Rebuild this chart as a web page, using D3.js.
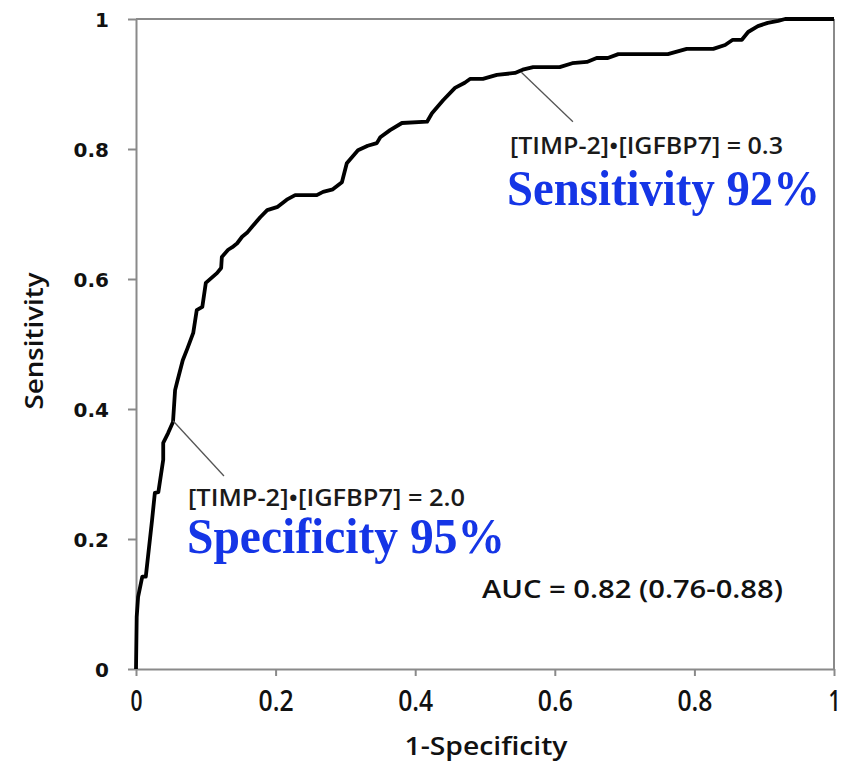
<!DOCTYPE html>
<html>
<head>
<meta charset="utf-8">
<script src="https://cdn.jsdelivr.net/npm/d3@7"></script>
<style>
  html, body { margin: 0; padding: 0; background: #fff; }
  svg { display: block; }
</style>
</head>
<body>
<svg id="chart" width="845" height="764"></svg>
<script>
// ROC curve: 1-Specificity (x) vs Sensitivity (y)
const fpr = [0, 0.001, 0.003, 0.009, 0.014, 0.023, 0.027, 0.032, 0.039, 0.039, 0.046, 0.053, 0.056, 0.059, 0.067, 0.074, 0.082, 0.087, 0.095, 0.100, 0.116, 0.122, 0.123, 0.132, 0.138, 0.145, 0.152, 0.159, 0.166, 0.178, 0.188, 0.203, 0.216, 0.228, 0.259, 0.268, 0.282, 0.295, 0.302, 0.318, 0.332, 0.345, 0.350, 0.364, 0.381, 0.417, 0.424, 0.440, 0.457, 0.471, 0.479, 0.497, 0.517, 0.543, 0.554, 0.569, 0.607, 0.625, 0.646, 0.660, 0.676, 0.691, 0.762, 0.789, 0.827, 0.844, 0.855, 0.868, 0.877, 0.891, 0.905, 0.920, 0.930, 1];
const tpr = [0, 0.080, 0.111, 0.142, 0.142, 0.229, 0.271, 0.272, 0.322, 0.348, 0.363, 0.380, 0.429, 0.442, 0.475, 0.494, 0.517, 0.552, 0.557, 0.594, 0.609, 0.617, 0.634, 0.645, 0.649, 0.655, 0.665, 0.671, 0.680, 0.695, 0.706, 0.711, 0.722, 0.729, 0.729, 0.734, 0.738, 0.749, 0.778, 0.798, 0.805, 0.809, 0.818, 0.829, 0.840, 0.842, 0.855, 0.875, 0.894, 0.902, 0.908, 0.908, 0.914, 0.917, 0.922, 0.926, 0.926, 0.932, 0.934, 0.940, 0.940, 0.946, 0.946, 0.954, 0.954, 0.960, 0.968, 0.968, 0.980, 0.989, 0.994, 0.997, 1.0, 1];

const xTicks = [0, 0.2, 0.4, 0.6, 0.8, 1];
const yTicks = [0, 0.2, 0.4, 0.6, 0.8, 1];
const xTickLabels = ["0", "0.2", "0.4", "0.6", "0.8", "1"];
const yTickLabels = ["0", "0.2", "0.4", "0.6", "0.8", "1"];

// cut-off annotations: point on curve, leader-line end, label
const cutPoint = [[0.053, 0.382], [0.552, 0.918]];
const cutLeaderEnd = [[0.126, 0.297], [0.626, 0.842]];
const cutLabels = ["[TIMP-2]•[IGFBP7] = 2.0", "[TIMP-2]•[IGFBP7] = 0.3"];
const cutResults = ["Specificity 95%", "Sensitivity 92%"];
const aucLabel = "AUC = 0.82 (0.76-0.88)";

const svg = d3.select("#chart");
const L = 136, R = 834, T = 19, B = 669;
const x = d3.scaleLinear().domain([0, 1]).range([L, R]);
const y = d3.scaleLinear().domain([0, 1]).range([B, T]);

const axisColor = "#8a8a8a";
const labelFont = "'Open Sans', 'Noto Sans', sans-serif";

// frame (top & right)
svg.append("line").attr("x1", x(0)).attr("x2", x(1)).attr("y1", y(1)).attr("y2", y(1))
  .attr("stroke", axisColor).attr("stroke-width", 2);
svg.append("line").attr("x1", x(1)).attr("x2", x(1)).attr("y1", y(0)).attr("y2", y(1))
  .attr("stroke", axisColor).attr("stroke-width", 2);

// x axis
const gx = svg.append("g").attr("transform", `translate(0,${B})`)
  .call(d3.axisBottom(x).tickValues(xTicks).tickSize(7).tickSizeOuter(0)
    .tickFormat((d, i) => xTickLabels[i]));
gx.select(".domain").attr("stroke", axisColor).attr("stroke-width", 2);
gx.selectAll(".tick line").attr("stroke", axisColor).attr("stroke-width", 2);
gx.selectAll(".tick text")
  .attr("y", 42).attr("dy", null)
  .attr("font-family", labelFont).attr("font-weight", 600).attr("font-size", 28)
  .attr("fill", "#111")
  .each(function(d, i) {
    const w = xTickLabels[i].length === 1 ? 12 : 35;
    d3.select(this).attr("textLength", w).attr("lengthAdjust", "spacingAndGlyphs");
  });

// y axis
const gy = svg.append("g").attr("transform", `translate(${L},0)`)
  .call(d3.axisLeft(y).tickValues(yTicks).tickSize(8).tickSizeOuter(0)
    .tickFormat((d, i) => yTickLabels[i]));
gy.select(".domain").attr("stroke", axisColor).attr("stroke-width", 2);
gy.selectAll(".tick line").attr("stroke", axisColor).attr("stroke-width", 2);
gy.selectAll(".tick text")
  .attr("x", -27).attr("dy", "0.36em")
  .attr("font-family", "'DejaVu Sans', sans-serif").attr("font-weight", "bold").attr("font-size", 20)
  .attr("fill", "#111");

// axis titles
svg.append("text")
  .attr("x", 486).attr("y", 755).attr("text-anchor", "middle")
  .attr("font-family", labelFont).attr("font-weight", 600).attr("font-size", 26)
  .attr("textLength", 163).attr("lengthAdjust", "spacingAndGlyphs")
  .attr("fill", "#111").text("1-Specificity");
svg.append("text")
  .attr("transform", "translate(43,341) rotate(-90)").attr("text-anchor", "middle")
  .attr("font-family", labelFont).attr("font-weight", 600).attr("font-size", 26)
  .attr("textLength", 137).attr("lengthAdjust", "spacingAndGlyphs")
  .attr("fill", "#111").text("Sensitivity");

// ROC curve
const pts = fpr.map((f, i) => [f, tpr[i]]);
svg.append("path")
  .datum(pts)
  .attr("fill", "none").attr("stroke", "#000").attr("stroke-width", 3.8)
  .attr("stroke-linejoin", "round")
  .attr("d", d3.line().x(d => x(d[0])).y(d => y(d[1])));

// leader lines
cutPoint.forEach((p, i) => {
  svg.append("line")
    .attr("x1", x(p[0])).attr("y1", y(p[1]))
    .attr("x2", x(cutLeaderEnd[i][0])).attr("y2", y(cutLeaderEnd[i][1]))
    .attr("stroke", "#555").attr("stroke-width", 1.3);
});

// annotation labels
const labelPos = [[188, 506, 277], [510, 154, 273]];
const resultPos = [[187, 553, 318], [507, 205, 313]];
cutLabels.forEach((t, i) => {
  svg.append("text")
    .attr("x", labelPos[i][0]).attr("y", labelPos[i][1])
    .attr("font-family", labelFont).attr("font-weight", 600).attr("font-size", 24)
    .attr("textLength", labelPos[i][2]).attr("lengthAdjust", "spacingAndGlyphs")
    .attr("fill", "#1a1a1a").text(t);
  svg.append("text")
    .attr("x", resultPos[i][0]).attr("y", resultPos[i][1])
    .attr("font-family", "'Liberation Serif', 'Times New Roman', serif").attr("font-weight", "bold")
    .attr("font-size", 50)
    .attr("textLength", resultPos[i][2]).attr("lengthAdjust", "spacingAndGlyphs")
    .attr("fill", "#1535e6").text(cutResults[i]);
});

svg.append("text")
  .attr("x", 482).attr("y", 598)
  .attr("font-family", labelFont).attr("font-weight", 600).attr("font-size", 26)
  .attr("textLength", 301).attr("lengthAdjust", "spacingAndGlyphs")
  .attr("fill", "#111").text(aucLabel);
</script>
</body>
</html>
